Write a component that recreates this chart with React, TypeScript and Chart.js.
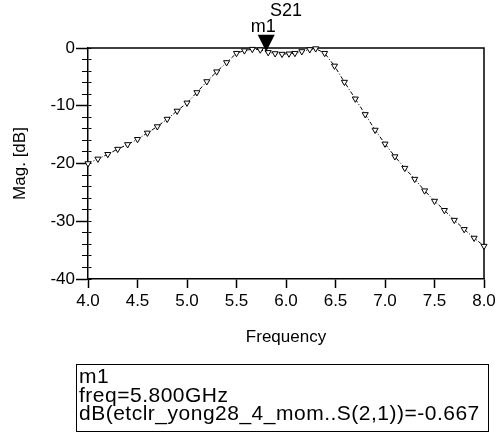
import React, { useEffect, useRef } from 'react';
import { Chart, registerables } from 'chart.js';

Chart.register(...registerables);

// ---- data ----
const freqGHz = [
  4.0, 4.1, 4.2, 4.3, 4.4, 4.5, 4.6, 4.7, 4.8, 4.9,
  5.0, 5.1, 5.2, 5.3, 5.4, 5.5, 5.58, 5.66, 5.74, 5.82,
  5.89, 5.96, 6.03, 6.09, 6.16, 6.24, 6.3, 6.39, 6.49, 6.59,
  6.7, 6.8, 6.9, 7.0, 7.1, 7.2, 7.3, 7.4, 7.5, 7.6,
  7.7, 7.8, 7.9, 8.0,
];
const magDB = [
  -20.0, -19.2, -18.4, -17.5, -16.7, -15.8, -14.7, -13.6, -12.3, -10.9,
  -9.5, -7.7, -5.8, -4.1, -2.5, -0.9, -0.45, -0.2, -0.3, -0.75,
  -0.95, -1.05, -1.0, -0.9, -0.6, -0.25, -0.1, -0.9, -3.1, -5.9,
  -8.8, -11.5, -14.2, -16.6, -18.8, -20.8, -22.7, -24.7, -26.5, -28.1,
  -29.8, -31.4, -32.9, -34.3,
];

const xMin = 4.0;
const xMax = 8.0;
const xStep = 0.5;
const yMin = -40;
const yMax = 0;
const yMinorStep = 2;
const yMajorStep = 10;

const traceName = 'S21';
const markerName = 'm1';
const markerFreq = 5.8;
const markerValue = -0.667;
const traceExpr = 'etclr_yong28_4_mom..S(2,1)';
const readoutLines = [
  markerName,
  `freq=${markerFreq.toFixed(3)}GHz`,
  `dB(${traceExpr})=${markerValue}`,
];

const FONT = "'Liberation Sans', Arial, Helvetica, sans-serif";

export default function App() {
  const ref = useRef<HTMLCanvasElement>(null);

  useEffect(() => {
    if (!ref.current) return;

    const framePlugin = {
      id: 'frame',
      beforeDatasetsDraw(chart: any) {
        const { ctx, chartArea: a } = chart;
        ctx.save();
        ctx.strokeStyle = '#000';
        ctx.lineWidth = 1.5;
        ctx.beginPath();
        ctx.moveTo(a.left, a.top);
        ctx.lineTo(a.right, a.top);
        ctx.lineTo(a.right, a.bottom);
        ctx.stroke();
        ctx.restore();
      },
    };

    const markerPlugin = {
      id: 'marker',
      afterDatasetsDraw(chart: any) {
        const { ctx, chartArea: a } = chart;
        const px = chart.scales.x.getPixelForValue(markerFreq);
        const py = chart.scales.y.getPixelForValue(markerValue);
        ctx.save();
        ctx.fillStyle = '#000';
        ctx.beginPath();
        ctx.moveTo(px, py);
        ctx.lineTo(px - 8.5, py - 17);
        ctx.lineTo(px + 8.5, py - 17);
        ctx.closePath();
        ctx.fill();
        ctx.font = `18px ${FONT}`;
        ctx.textAlign = 'center';
        ctx.textBaseline = 'middle';
        ctx.fillText(markerName, px - 3, a.top - 21);
        ctx.fillText(traceName, (a.left + a.right) / 2, 11);
        ctx.restore();
      },
    };

    const chart = new Chart(ref.current, {
      type: 'line',
      data: {
        datasets: [
          {
            data: freqGHz.map((f, i) => ({ x: f, y: magDB[i] })),
            borderColor: '#000',
            borderWidth: 1,
            borderDash: [4, 2, 1, 2],
            pointStyle: 'triangle',
            rotation: 180,
            pointRadius: 3.5,
            pointBackgroundColor: '#fff',
            pointBorderColor: '#000',
            pointBorderWidth: 1,
            clip: false as any,
            tension: 0,
          } as any,
        ],
      },
      options: {
        animation: false,
        responsive: false,
        events: [],
        layout: { padding: { left: 0, right: 17, top: 48, bottom: 0 } },
        plugins: {
          legend: { display: false },
          tooltip: { enabled: false },
          title: { display: false },
        },
        scales: {
          x: {
            type: 'linear',
            min: xMin,
            max: xMax,
            afterFit: (s: any) => {
              s.height = 153;
            },
            ticks: {
              stepSize: xStep,
              autoSkip: false,
              maxRotation: 0,
              color: '#000',
              font: { size: 17, family: FONT },
              padding: 3,
              callback: (v: any) => Number(v).toFixed(1),
            },
            grid: {
              drawOnChartArea: false,
              drawTicks: true,
              tickLength: 9,
              tickColor: '#000',
              tickWidth: 1.5,
            },
            border: { color: '#000', width: 1.5 },
            title: {
              display: true,
              text: 'Frequency',
              color: '#000',
              font: { size: 17, family: FONT },
              padding: { top: 0, bottom: 84 },
            },
          },
          y: {
            min: yMin,
            max: yMax,
            afterFit: (s: any) => {
              s.width = 88;
            },
            ticks: {
              stepSize: yMinorStep,
              autoSkip: false,
              color: '#000',
              font: { size: 17, family: FONT },
              padding: 1,
              callback: (v: any) => (Number(v) % yMajorStep === 0 ? String(Number(v)) : ''),
            },
            grid: {
              drawOnChartArea: true,
              color: '#000',
              lineWidth: 1,
              tickLength: 12,
              tickColor: '#000',
              tickWidth: (c: any) => (c.tick && c.tick.value % yMajorStep === 0 ? 1.5 : 1),
              tickBorderDash: (c: any) =>
                c.tick && c.tick.value % yMajorStep === 0 ? [] : [0, 6, 6, 100],
            } as any,
            border: {
              color: '#000',
              width: 1.5,
              dash: (c: any) => (c.type === 'tick' ? [3, 2000] : []),
            } as any,
            title: {
              display: true,
              text: 'Mag. [dB]',
              color: '#000',
              font: { size: 17, family: FONT },
              padding: { top: 10, bottom: 0 },
            },
          },
        },
      } as any,
      plugins: [framePlugin, markerPlugin],
    });

    return () => chart.destroy();
  }, []);

  return (
    <div
      style={{
        position: 'fixed',
        left: 0,
        top: 0,
        width: 501,
        height: 432,
        background: '#fff',
        overflow: 'hidden',
      }}
    >
      <canvas ref={ref} width={501} height={432} style={{ display: 'block' }} />
      <div
        style={{
          position: 'absolute',
          left: 76,
          top: 364,
          width: 413,
          height: 68,
          boxSizing: 'border-box',
          border: '1px solid #000',
          fontFamily: FONT,
          fontSize: 21,
          lineHeight: '18.5px',
          letterSpacing: '0.5px',
          paddingLeft: 2,
          paddingTop: 2,
          color: '#000',
          whiteSpace: 'pre',
          overflow: 'hidden',
        }}
      >
        {readoutLines.map((l, i) => (
          <div key={i}>{l}</div>
        ))}
      </div>
    </div>
  );
}
